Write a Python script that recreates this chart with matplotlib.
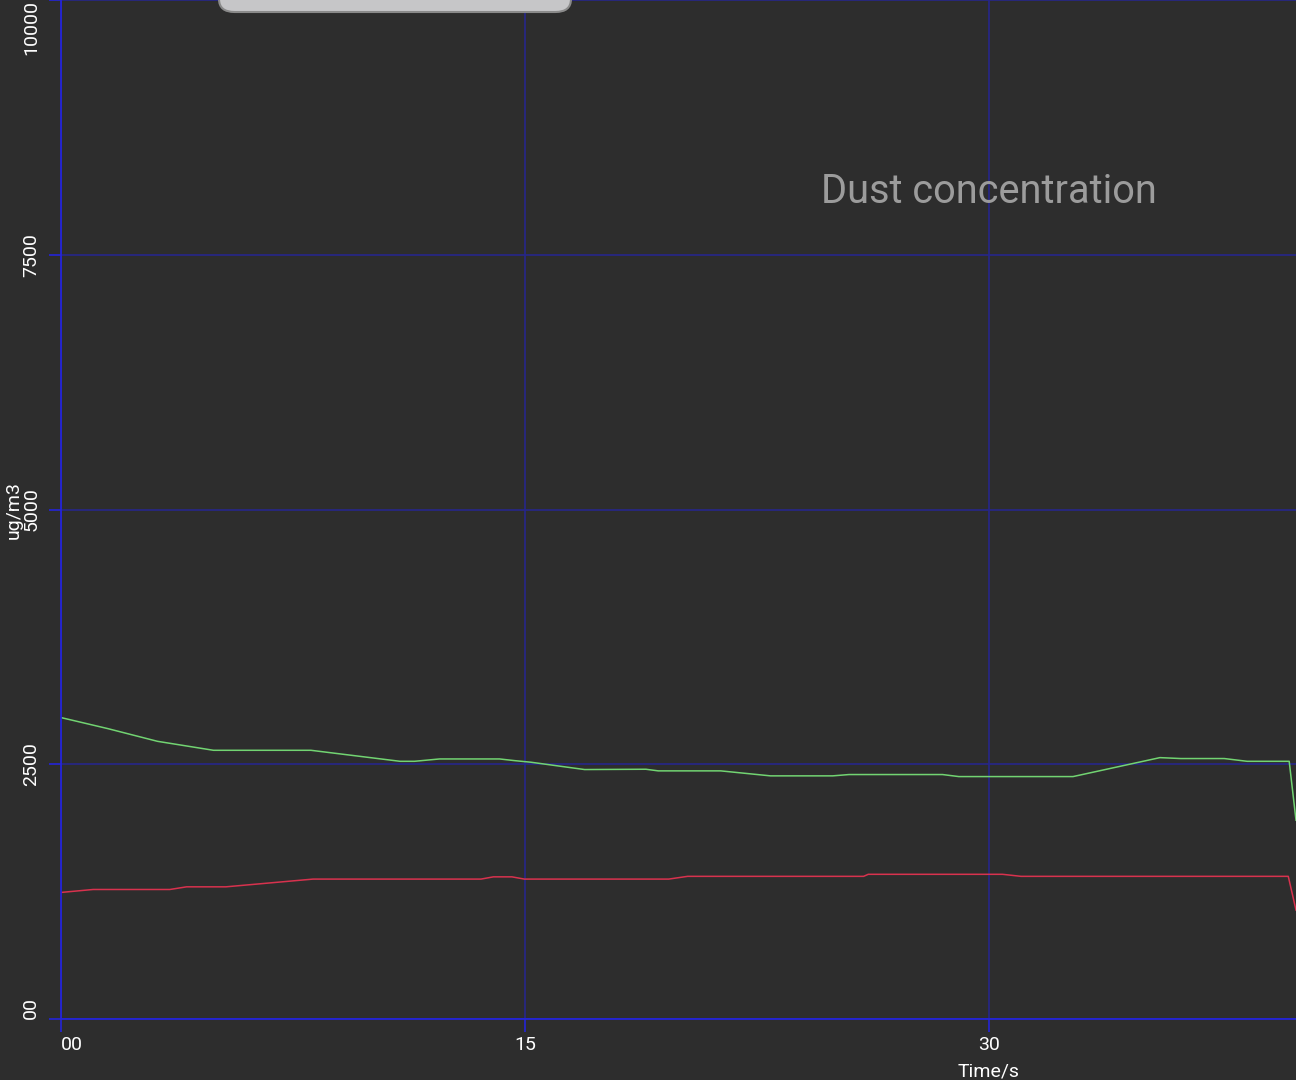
import matplotlib
matplotlib.use("Agg")
import matplotlib.pyplot as plt
from matplotlib.patches import FancyBboxPatch

plt.rcParams['font.family'] = ['Roboto', 'DejaVu Sans']

# readings (time in s, dust in ug/m3)
green_t = [0, 1.51, 3.12, 4.93, 8.08, 10.96, 11.43, 12.24, 14.18, 14.65, 15.19,
           16.93, 18.91, 19.31, 21.33, 22.94, 24.95, 25.48, 28.5, 29.03, 32.72,
           35.53, 36.21, 37.61, 38.35, 39.71, 39.93]
green_v = [2958, 2850, 2725, 2637, 2637, 2529, 2529, 2552, 2552, 2536, 2520,
           2448, 2451, 2435, 2435, 2386, 2386, 2399, 2399, 2379, 2379,
           2565, 2556, 2556, 2529, 2529, 1951]

red_t = [0, 1.04, 3.52, 4.06, 5.33, 8.15, 13.58, 13.98, 14.58, 14.98, 19.65,
         20.26, 25.95, 26.1, 30.44, 31.04, 39.68, 39.93]
red_v = [1242, 1271, 1271, 1297, 1297, 1373, 1373, 1395, 1395, 1373, 1373,
         1400, 1400, 1420, 1420, 1400, 1400, 1069]

x_ticks = [0, 15, 30]
x_labels = ['00', '15', '30']
y_ticks = [0, 2500, 5000, 7500, 10000]
y_labels = ['00', '2500', '5000', '7500', '10000']

bg = '#2d2d2d'
fig = plt.figure(figsize=(12.96, 10.8), dpi=100, facecolor=bg)
ax = fig.add_axes([61/1296, 61/1080, 1235/1296, 1019/1080], facecolor=bg)

ax.plot(green_t, green_v, color='#72d472', lw=1.1)
ax.plot(red_t, red_v, color='#d8324e', lw=1.1)

ax.set_xlim(0, 39.93)
ax.set_ylim(0, 10000)
ax.set_xticks(x_ticks)
ax.set_xticklabels(x_labels)
ax.set_yticks(y_ticks)
ax.set_yticklabels(y_labels, rotation=90, va='center')
ax.grid(True, color='#26268a', lw=1.2)
ax.set_axisbelow(True)

for s in ['top', 'right']:
    ax.spines[s].set_visible(False)
for s in ['left', 'bottom']:
    ax.spines[s].set_color('#2424d8')
    ax.spines[s].set_linewidth(1.3)
ax.tick_params(colors='white', labelsize=14, length=9, width=1.2)
ax.tick_params(axis='both', color='#2424d8')
ax.tick_params(axis='y', pad=6)
ax.tick_params(axis='x', pad=3)

ylabs = ax.get_yticklabels()
ylabs[0].set_va('bottom')
ylabs[-1].set_va('top')
ax.get_xticklabels()[0].set_ha('left')

fig.text(989/1296, 1 - 1072/1080, 'Time/s', color='white', fontsize=14,
         ha='center', va='center')
fig.text(14/1296, 1 - 510/1080, 'ug/m3', color='white', fontsize=14,
         rotation=90, ha='center', va='center')
ax.text(0.7515, 0.8116, 'Dust concentration', transform=ax.transAxes,
        color='#9c9c9c', fontsize=28.6, ha='center', va='center')

# grey pop-up tab cut by the top edge
box = FancyBboxPatch((219/1296, 1 - 12/1080), 352/1296, 40/1080,
                     boxstyle='round,pad=0,rounding_size=0.012',
                     transform=fig.transFigure, facecolor='#c6c6c8',
                     edgecolor='#8a8a8a', lw=1.5, zorder=10)
fig.patches.append(box)

fig.savefig('out.png', dpi=100, facecolor=bg)
